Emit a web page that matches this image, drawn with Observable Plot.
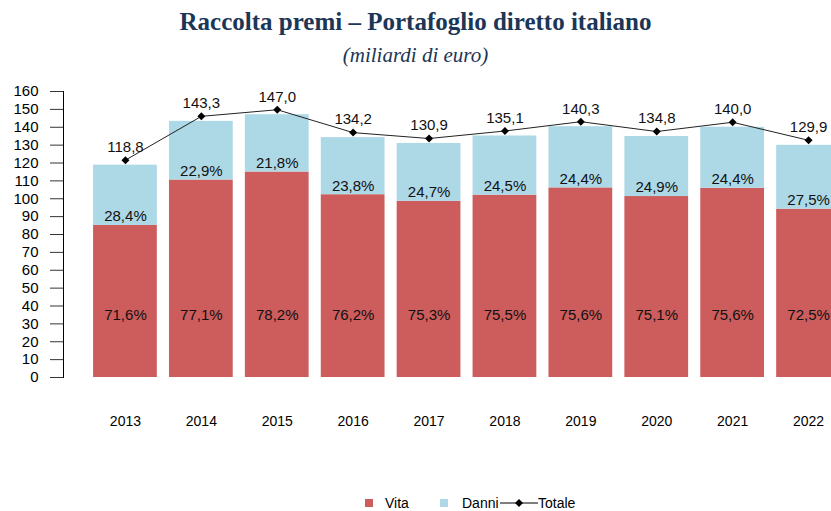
<!DOCTYPE html>
<html>
<head>
<meta charset="utf-8">
<script src="https://cdn.jsdelivr.net/npm/d3@7"></script>
<script src="https://cdn.jsdelivr.net/npm/@observablehq/plot@0.6"></script>
<style>
  html, body { margin: 0; padding: 0; background: #fff; overflow: hidden; }
  #wrap { position: relative; width: 831px; height: 511px; overflow: hidden; }
  #title { position: absolute; left: 0; width: 831px; top: 7px; text-align: center; line-height: 30px;
    font-family: "Liberation Serif", "DejaVu Serif", serif; font-weight: bold; font-size: 25px; color: #1b3656; }
  #subtitle { position: absolute; left: 0; width: 831px; top: 42px; text-align: center; line-height: 26px;
    font-family: "Liberation Serif", "DejaVu Serif", serif; font-style: italic; font-size: 21px; color: #1b3656; }
  #chart { position: absolute; left: 0; top: 0; }
  .lg { position: absolute; font-family: "Liberation Sans", Arial, sans-serif; font-size: 14px; color: #000;
    line-height: 18px; top: 494px; white-space: nowrap; }
  .sw { position: absolute; width: 8px; height: 8px; top: 499px; }
</style>
</head>
<body>
<div id="wrap">
  <div id="chart"></div>
  <div id="title">Raccolta premi – Portafoglio diretto italiano</div>
  <div id="subtitle">(miliardi di euro)</div>
  <span class="sw" style="left:365px;background:#CD5C5C"></span>
  <span class="lg" style="left:385px">Vita</span>
  <span class="sw" style="left:440px;background:#ADD8E6"></span>
  <span class="lg" style="left:462px">Danni</span>
  <svg width="38" height="12" style="position:absolute;left:500px;top:497px"><line x1="0" y1="6" x2="38" y2="6" stroke="#000" stroke-width="1"/><path d="M19 2 L23 6 L19 10 L15 6 Z" fill="#000"/></svg>
  <span class="lg" style="left:538px">Totale</span>
</div>
<script>
const years = ["2013","2014","2015","2016","2017","2018","2019","2020","2021","2022"];
const totale = [118.8, 143.3, 147.0, 134.2, 130.9, 135.1, 140.3, 134.8, 140.0, 129.9];
const vitaPct = [71.6, 77.1, 78.2, 76.2, 75.3, 75.5, 75.6, 75.1, 75.6, 72.5];
const danniPct = [28.4, 22.9, 21.8, 23.8, 24.7, 24.5, 24.4, 24.9, 24.4, 27.5];
const yTicks = [0,10,20,30,40,50,60,70,80,90,100,110,120,130,140,150,160];
const vitaLabelLevel = 35;

const data = years.map((y, i) => ({
  year: y,
  tot: totale[i],
  vita: totale[i] * vitaPct[i] / 100,
  vp: vitaPct[i],
  dp: danniPct[i]
}));
const fmt = v => v.toFixed(1).replace(".", ",");

const chart = Plot.plot({
  width: 831,
  height: 470,
  marginLeft: 63,
  marginRight: 0,
  marginTop: 91,
  marginBottom: 93,
  x: { domain: years, range: [87, 846], paddingInner: 0.16, paddingOuter: 0.08, round: false, label: null },
  y: { domain: [0, 160], label: null },
  style: { fontFamily: "'Liberation Sans', Arial, sans-serif", fontSize: "15px", color: "#000", background: "transparent" },
  marks: [
    Plot.barY(data, { x: "year", y1: 0, y2: "vita", fill: "#CD5C5C" }),
    Plot.barY(data, { x: "year", y1: "vita", y2: "tot", fill: "#ADD8E6" }),
    Plot.axisY({ ticks: yTicks, tickSize: 13, tickPadding: 12, fontSize: 15, label: null, stroke: "#333" }),
    Plot.frame({ anchor: "left", stroke: "#000" }),
    Plot.axisX({ tickSize: 0, tickPadding: 39, fontSize: 14, label: null }),
    Plot.text(data, { x: "year", y: () => vitaLabelLevel, text: d => fmt(d.vp) + "%", fontSize: 15, fill: "#111" }),
    Plot.text(data, { x: "year", y: "vita", dy: -9, text: d => fmt(d.dp) + "%", fontSize: 15, fill: "#111" }),
    Plot.line(data, { x: "year", y: "tot", dy: -5, stroke: "#222", strokeWidth: 1 }),
    Plot.dot(data, { x: "year", y: "tot", dy: -5, symbol: "diamond2", r: 3.6, fill: "#000", stroke: "none" }),
    Plot.text(data, { x: "year", y: "tot", dy: -18, text: d => fmt(d.tot), fontSize: 15, fill: "#111" })
  ]
});
document.getElementById("chart").append(chart);
</script>
</body>
</html>
